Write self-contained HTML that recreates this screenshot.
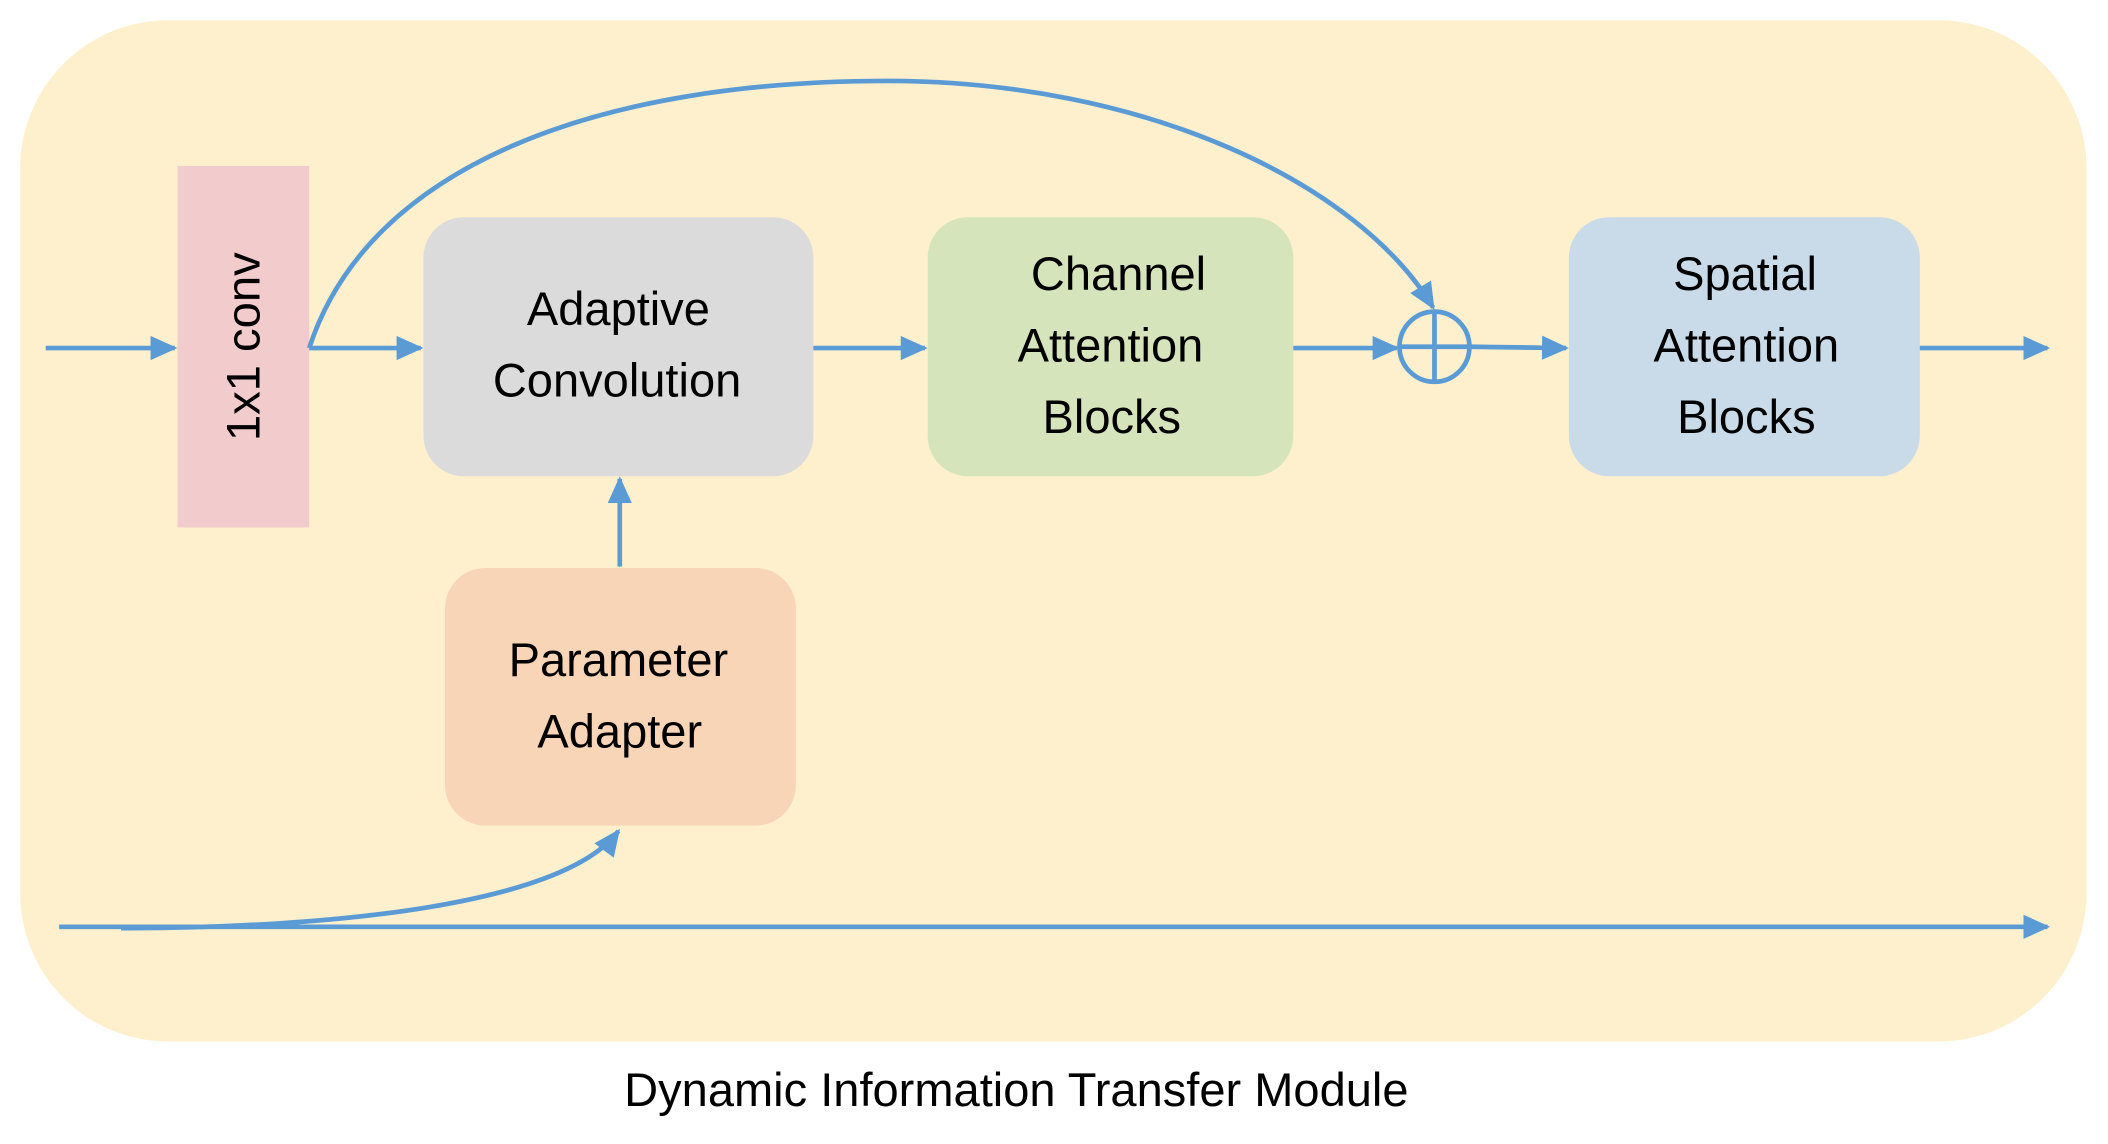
<!DOCTYPE html>
<html><head><meta charset="utf-8"><style>html,body{margin:0;padding:0;background:#fff}svg{display:block}</style></head>
<body>
<svg width="2108" height="1144" viewBox="0 0 1568 848" preserveAspectRatio="none" xmlns="http://www.w3.org/2000/svg">
<defs>
<marker id="b" markerWidth="20" markerHeight="18" refX="18" refY="9" orient="auto" markerUnits="userSpaceOnUse"><path d="M0,0 L20,9 L0,18 z" fill="#5B9BD5"/></marker></defs>
<rect x="15" y="15" width="1537" height="757" rx="110" fill="#FEF0CD"/>
<rect x="132" y="123" width="98" height="268" fill="#F2CCCC"/>
<rect x="315" y="161" width="290" height="192" rx="30" fill="#DBDBDB"/>
<rect x="690" y="161" width="272" height="192" rx="30" fill="#D6E4BC"/>
<rect x="1167" y="161" width="261" height="192" rx="30" fill="#C9DAE8"/>
<rect x="331" y="421" width="261" height="191" rx="30" fill="#F8D5B6"/>
<g font-family="'Liberation Sans', sans-serif" font-size="35" fill="#000" text-anchor="middle">
<text transform="translate(193,257) rotate(-90)">1x1 conv</text>
<text x="460" y="241">Adaptive</text><text x="459" y="294">Convolution</text>
<text x="832" y="215">Channel</text><text x="826" y="268">Attention</text><text x="827" y="321">Blocks</text>
<text x="1298" y="215">Spatial</text><text x="1299" y="268">Attention</text><text x="1299" y="321">Blocks</text>
<text x="460" y="501">Parameter</text><text x="461" y="554">Adapter</text>
<text x="756" y="820">Dynamic Information Transfer Module</text>
</g>
<g stroke="#5B9BD5" stroke-width="3.5" fill="none">
<path d="M34,258 H130" marker-end="url(#b)"/>
<path d="M230,258 H313" marker-end="url(#b)"/>
<path d="M605,258 H688" marker-end="url(#b)"/>
<path d="M962,258 H1039" marker-end="url(#b)"/>
<path d="M1093,257 L1165,258" marker-end="url(#b)"/>
<path d="M1428,258 H1523" marker-end="url(#b)"/>
<path d="M461,420 V355" marker-end="url(#b)"/>
<path d="M44,687 H1523" marker-end="url(#b)"/>
<path d="M90,688 C250,688 420,670 460,616" marker-end="url(#b)"/>
<path d="M230,258 C275,120 450,60 660,60 C850,60 1010,135 1066,228" marker-end="url(#b)"/>
<circle cx="1067" cy="257" r="26"/>
<path d="M1041,257 H1093 M1067,231 V283"/>
</g>
</svg>
</body></html>
